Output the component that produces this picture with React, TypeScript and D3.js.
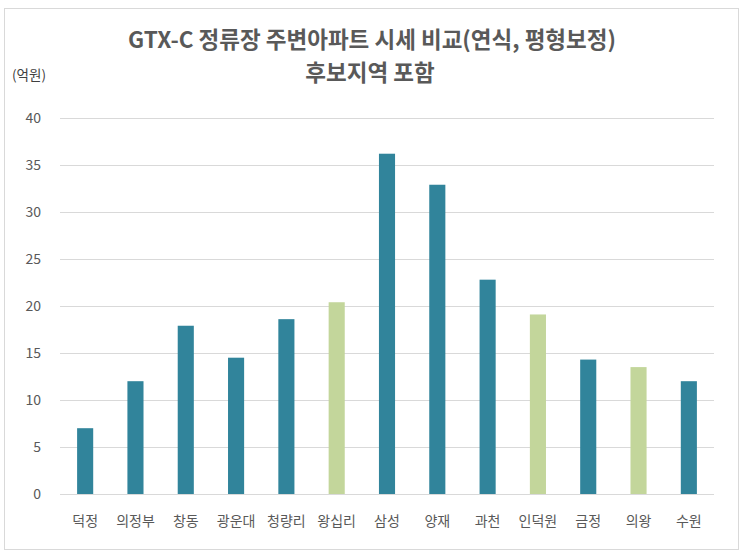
import React from "react";
import * as d3 from "d3";

const stations = ["덕정", "의정부", "창동", "광운대", "청량리", "왕십리", "삼성", "양재", "과천", "인덕원", "금정", "의왕", "수원"];
const prices = [7, 12, 17.9, 14.5, 18.6, 20.4, 36.2, 32.9, 22.8, 19.1, 14.3, 13.5, 12];
// 후보지역 (candidate stations) shown in green
const candidates = ["왕십리", "인덕원", "의왕"];
const yTicks = [0, 5, 10, 15, 20, 25, 30, 35, 40];

const W = 743;
const H = 556;
const FONT = "'Noto Sans CJK KR', 'Noto Sans', sans-serif";

export default function App() {
  const x = d3.scaleBand<string>().domain(stations).range([60, 714]).paddingInner(0.68).paddingOuter(0.34);
  const y = d3.scaleLinear().domain([0, 40]).range([494, 118]);

  return (
    <svg width={W} height={H} style={{ position: "absolute", left: 0, top: 0 }}>
      <rect x={0} y={0} width={W} height={H} fill="#fff" />
      <rect x={4.5} y={8.5} width={734} height={541} fill="#fff" stroke="#d9d9d9" />

      <text x={372} y={48} textAnchor="middle" fontFamily={FONT} fontWeight="bold" fontSize={22.5} fill="#595959">
        GTX-C 정류장 주변아파트 시세 비교(연식, 평형보정)
      </text>
      <text x={370} y={81} textAnchor="middle" fontFamily={FONT} fontWeight="bold" fontSize={22.5} fill="#595959">
        후보지역 포함
      </text>
      <text x={12} y={80} fontFamily={FONT} fontSize={13.5} fill="#404040">(억원)</text>

      {yTicks.map(t => (
        <g key={t}>
          <line x1={60} x2={714} y1={y(t) + 0.5} y2={y(t) + 0.5} stroke="#d9d9d9" />
          <text x={41} y={y(t) + 5} textAnchor="end" fontFamily={FONT} fontSize={14} fill="#595959">{t}</text>
        </g>
      ))}

      {stations.map((s, i) => (
        <rect
          key={s}
          x={x(s)}
          y={y(prices[i])}
          width={x.bandwidth()}
          height={y(0) - y(prices[i])}
          fill={candidates.includes(s) ? "#c3d69b" : "#31849b"}
        />
      ))}

      {stations.map(s => (
        <text key={s} x={(x(s) as number) + x.bandwidth() / 2} y={526} textAnchor="middle" fontFamily={FONT} fontSize={14} fill="#595959">
          {s}
        </text>
      ))}
    </svg>
  );
}
